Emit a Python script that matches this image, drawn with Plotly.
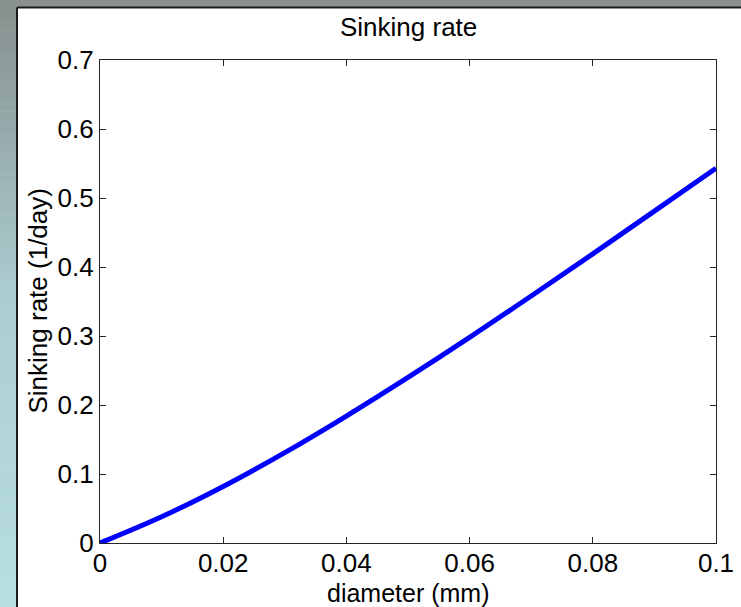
import plotly.graph_objects as go

# Data
diameter = [0.0, 0.01, 0.02, 0.03, 0.04, 0.05, 0.06, 0.07, 0.08, 0.09, 0.10]
sinking = [0.0, 0.038, 0.082, 0.131, 0.184, 0.240, 0.298, 0.358, 0.419, 0.481, 0.543]
x_ticks = [0, 0.02, 0.04, 0.06, 0.08, 0.1]
x_tick_text = ["0", "0.02", "0.04", "0.06", "0.08", "0.1"]
y_ticks = [0, 0.1, 0.2, 0.3, 0.4, 0.5, 0.6, 0.7]
y_tick_text = ["0", "0.1", "0.2", "0.3", "0.4", "0.5", "0.6", "0.7"]

W, H = 741, 607
L, R, T, B = 100, 25, 60, 64
PW, PH = W - L - R, H - T - B

def px2x(px):
    return (px - L) / PW

def py2y(py):
    return (H - B - py) / PH

FONT = "Liberation Sans, Arial, Helvetica, sans-serif"

fig = go.Figure()
fig.add_trace(go.Scatter(
    x=diameter, y=sinking, mode="lines",
    line=dict(color="#0000ff", width=5, shape="spline", smoothing=1.0),
    showlegend=False,
))

shapes = []
# left gradient strip
stops = [(0.0, (134, 143, 141)), (0.5, (172, 206, 210)), (1.0, (184, 222, 226))]
def col_at(t):
    for i in range(len(stops) - 1):
        t0, c0 = stops[i]
        t1, c1 = stops[i + 1]
        if t0 <= t <= t1:
            f = (t - t0) / (t1 - t0)
            return tuple(int(round(c0[k] + f * (c1[k] - c0[k]))) for k in range(3))
    return stops[-1][1]

N = 60
for i in range(N):
    y0p = H * i / N
    y1p = H * (i + 1) / N + 0.5
    c = col_at((i + 0.5) / N)
    shapes.append(dict(type="rect", xref="paper", yref="paper",
                       x0=px2x(0), x1=px2x(17), y0=py2y(y1p), y1=py2y(y0p),
                       fillcolor="rgb(%d,%d,%d)" % c, line=dict(width=0), layer="below"))
# top strip
shapes.append(dict(type="rect", xref="paper", yref="paper",
                   x0=px2x(0), x1=px2x(W), y0=py2y(7.5), y1=py2y(0),
                   fillcolor="rgb(136,145,142)", line=dict(width=0), layer="below"))
# panel border
shapes.append(dict(type="line", xref="paper", yref="paper",
                   x0=px2x(17), x1=px2x(17), y0=py2y(H), y1=py2y(7.5),
                   line=dict(color="#1c1c1c", width=2)))
shapes.append(dict(type="line", xref="paper", yref="paper",
                   x0=px2x(17), x1=px2x(W), y0=py2y(7.5), y1=py2y(7.5),
                   line=dict(color="#1c1c1c", width=2)))

axis_common = dict(
    showline=True, linecolor="#262626", linewidth=1.3, mirror="ticks",
    ticks="inside", ticklen=6, tickwidth=1.3, tickcolor="#262626",
    showgrid=False, zeroline=False,
    tickfont=dict(family=FONT, size=26, color="black"),
)

fig.update_layout(
    width=W, height=H,
    margin=dict(l=L, r=R, t=T, b=B, autoexpand=False),
    paper_bgcolor="white", plot_bgcolor="white",
    xaxis=dict(range=[0, 0.1], tickvals=x_ticks, ticktext=x_tick_text,
               ticklabelstandoff=-3, **axis_common),
    yaxis=dict(range=[0, 0.7], tickvals=y_ticks, ticktext=y_tick_text, **axis_common),
    shapes=shapes,
    annotations=[
        dict(text="Sinking rate", xref="paper", yref="paper", x=0.5, y=py2y(27),
             xanchor="center", yanchor="middle", showarrow=False,
             font=dict(family=FONT, size=26, color="black")),
        dict(text="diameter (mm)", xref="paper", yref="paper", x=0.5, y=py2y(593),
             xanchor="center", yanchor="middle", showarrow=False,
             font=dict(family=FONT, size=25, color="black")),
        dict(text="Sinking rate (1/day)", xref="paper", yref="paper", x=px2x(37), y=0.5,
             xanchor="center", yanchor="middle", textangle=-90, showarrow=False,
             font=dict(family=FONT, size=26, color="black")),
    ],
)

fig.write_html("out.html")
